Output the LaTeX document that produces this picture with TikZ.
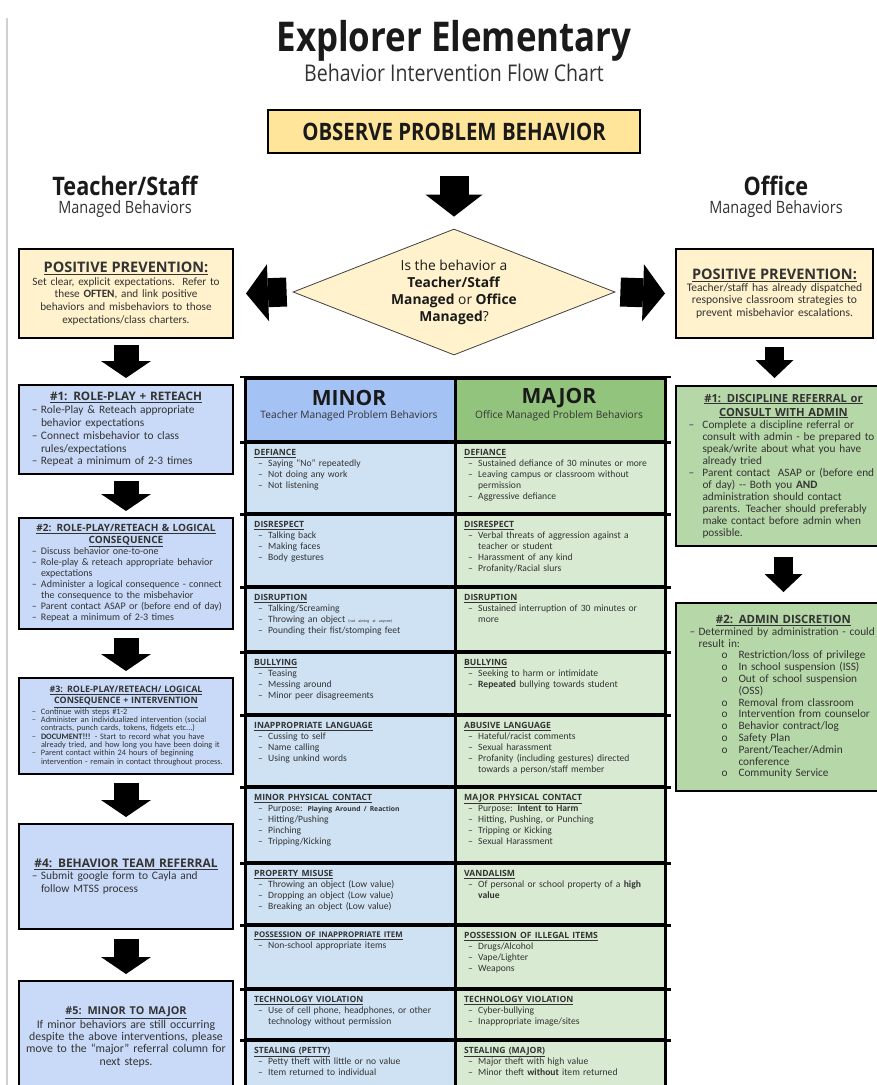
\documentclass[tikz,border=0pt]{standalone}
\usepackage{fontspec}
\setmainfont{Carlito}
\newfontfamily\osans{Open Sans}
\newfontfamily\ocond[FakeStretch=0.85]{Open Sans}
\usetikzlibrary{shapes.geometric,arrows.meta,calc}
\hyphenpenalty=10000
\exhyphenpenalty=10000
\definecolor{obsfill}{HTML}{FFE599}
\definecolor{ppfill}{HTML}{FFF2CC}
\definecolor{bluebox}{HTML}{C9DAF8}
\definecolor{minhead}{HTML}{A4C2F4}
\definecolor{mincell}{HTML}{CFE2F3}
\definecolor{majhead}{HTML}{93C47D}
\definecolor{majcell}{HTML}{D9EAD3}
\definecolor{greenbox}{HTML}{B6D7A8}
\definecolor{txt}{HTML}{333333}
\definecolor{ink}{HTML}{1A1A1A}
\definecolor{pageedge}{HTML}{D0D0D0}
\newdimen\dashind \newdimen\txtind
\newdimen\sdashind \newdimen\stxtind
\newcommand{\itm}[1]{\par\hangindent=\txtind\hangafter=1\leavevmode\hspace*{\dashind}\makebox[\dimexpr\txtind-\dashind\relax][l]{–}#1\par}
\newcommand{\sitm}[1]{\par\hangindent=\stxtind\hangafter=1\leavevmode\hspace*{\sdashind}\makebox[\dimexpr\stxtind-\sdashind\relax][l]{o}#1\par}
\newcommand{\btitle}[3]{{\centering\osans\bfseries\fontsize{#1}{#2}\selectfont #3\par}}
\newcommand{\chd}[2][8.6]{{\osans\bfseries\fontsize{#1}{11}\selectfont\underline{#2}\par}}
\tikzset{
  bigarrow/.style={line width=29pt,-{Triangle[length=22pt,width=57pt,line width=0pt]}},
  midarrow/.style={line width=25pt,-{Triangle[length=17pt,width=50pt,line width=0pt]}},
  smallarrow/.style={line width=19pt,-{Triangle[length=18pt,width=38pt,line width=0pt]}},
  ppbox/.style={draw=black,line width=2pt,fill=ppfill,text width=204pt,inner xsep=5pt,inner ysep=0pt,align=center,text=txt,font=\fontsize{11.2}{12.7}\selectfont},
  bluest/.style={draw=black,line width=2pt,fill=bluebox,text width=206pt,inner xsep=4pt,inner ysep=0pt,align=left,text=txt,
    execute at begin node={\dashind=9pt\txtind=18pt}},
  greenst/.style={draw=black,line width=2pt,fill=greenbox,minimum width=215pt,inner sep=0pt},
  rtext/.style={text width=204pt,inner sep=0pt,align=left,text=txt},
  mincellst/.style={draw=black,line width=2.5pt,fill=mincell,minimum width=210pt,inner sep=0pt},
  majcellst/.style={draw=black,line width=2.5pt,fill=majcell,minimum width=210pt,inner sep=0pt},
  celltext/.style={text width=205pt,inner sep=0pt,align=left,text=txt,font=\fontsize{9.6}{10.9}\selectfont,
    execute at begin node={\dashind=4pt\txtind=14pt}},
  gridline/.style={line width=2.5pt,draw=black},
  headbig/.style={font=\osans\bfseries\fontsize{21}{23}\selectfont,text=ink,inner sep=0pt},
  headsub/.style={font=\osans\fontsize{10.2}{12}\selectfont,text=txt,inner sep=0pt},
}
\newcommand{\trow}[5]{%
  \node[mincellst,anchor=north west,minimum height={#3-#2}] (min#1) at (244,#2) {};
  \node[majcellst,anchor=north west,minimum height={#3-#2}] (maj#1) at (454,#2) {};
  \node[celltext,anchor=north west] (min#1t) at ([xshift=10pt,yshift=-9pt]min#1.north west) {#4};
  \node[celltext,anchor=north west] (maj#1t) at ([xshift=10pt,yshift=-9pt]maj#1.north west) {#5};
}
\begin{document}
\begin{tikzpicture}[x=1pt,y=-1pt]
\useasboundingbox (0,0) rectangle (877,1085);
\clip (0,0) rectangle (877,1085);
\fill[white] (0,0) rectangle (877,1085);
\draw[pageedge,line width=1.2pt] (7,18) -- (7,1085);

% titles
\node[font=\ocond\bfseries\fontsize{41}{44}\selectfont,text=ink] (title) at (454,41) {Explorer Elementary};
\node[font=\ocond\fontsize{23}{26}\selectfont,text=txt] (subtitle) at (454,73) {Behavior Intervention Flow Chart};
\node[draw=black,line width=2pt,fill=obsfill,minimum width=372pt,minimum height=43pt,
  font=\ocond\bfseries\fontsize{24}{26}\selectfont,text=ink] (obs) at (454,131.5) {OBSERVE PROBLEM BEHAVIOR};
\node[font=\ocond\bfseries\fontsize{25.5}{28}\selectfont,text=ink] (ts) at (125,186) {Teacher/Staff};
\node[font=\ocond\fontsize{17}{19}\selectfont,text=txt] (tsm) at (125,209) {Managed Behaviors};
\node[font=\ocond\bfseries\fontsize{25.5}{28}\selectfont,text=ink] (of) at (776,186) {Office};
\node[font=\ocond\fontsize{17}{19}\selectfont,text=txt] (ofm) at (776,209) {Managed Behaviors};

% decision
\node[diamond,draw=black!75,line width=0.8pt,fill=ppfill,minimum width=322pt,minimum height=126pt,inner sep=0pt] (dia) at (454,292) {};
\node[align=center,font=\osans\fontsize{13.8}{17}\selectfont,text=ink] (diat) at (dia.center)
  {Is the behavior a\\\textbf{Teacher/Staff}\\\textbf{Managed} or \textbf{Office}\\\textbf{Managed}?};

% positive prevention
\node[ppbox,anchor=north west,minimum height=89pt] (ppl) at (18,248)
  {\btitle{14.5}{15}{\underline{POSITIVE PREVENTION:}}Set clear, explicit expectations.\ \ Refer to\\these \textbf{OFTEN}, and link positive\\behaviors and misbehaviors to those\\expectations/class charters.};
\node[ppbox,anchor=north west,minimum height=89pt,text width=187pt,font=\fontsize{11.6}{12.3}\selectfont] (ppr) at (675,248)
  {\btitle{14.5}{16}{\underline{POSITIVE PREVENTION:}}Teacher/staff has already dispatched\\responsive classroom strategies to\\prevent misbehavior escalations.};

% teacher steps
\node[bluest,anchor=north west,minimum height=89pt,font=\fontsize{11.4}{12.8}\selectfont] (s1) at (18,384)
  {\btitle{11.7}{14}{\underline{\#1: ROLE-PLAY + RETEACH}}\itm{Role-Play \& Reteach appropriate\newline behavior expectations}\itm{Connect misbehavior to class\newline rules/expectations}\itm{Repeat a minimum of 2-3 times}};
\node[bluest,anchor=north west,minimum height=111pt,font=\fontsize{10}{11.1}\selectfont] (s2) at (18,517)
  {\btitle{10}{11.5}{\underline{\#2: ROLE-PLAY/RETEACH \& LOGICAL}\\\underline{CONSEQUENCE}}\itm{Discuss behavior one-to-one}\itm{Role-play \& reteach appropriate behavior\newline expectations}\itm{Administer a logical consequence - connect\newline the consequence to the misbehavior}\itm{Parent contact ASAP or (before end of day)}\itm{Repeat a minimum of 2-3 times}};
\node[bluest,anchor=north west,minimum height=96pt,font=\fontsize{8.3}{8.3}\selectfont] (s3) at (18,677)
  {\btitle{8.9}{11}{\underline{\#3: ROLE-PLAY/RETEACH/ LOGICAL}\\\underline{CONSEQUENCE + INTERVENTION}}\itm{Continue with steps \#1-2}\itm{Administer an individualized intervention (social\newline contracts, punch cards, tokens, fidgets etc...)}\itm{\textbf{DOCUMENT!!!} - Start to record what you have\newline already tried, and how long you have been doing it}\itm{Parent contact within 24 hours of beginning\newline intervention - remain in contact throughout process.}};
\node[bluest,anchor=north west,minimum height=105pt,font=\fontsize{11.4}{12.5}\selectfont] (s4) at (18,823)
  {\btitle{11.9}{14}{\underline{\#4: BEHAVIOR TEAM REFERRAL}}\itm{Submit google form to Cayla and\newline follow MTSS process}};
\node[bluest,align=center,anchor=north west,minimum height=112pt,font=\fontsize{11.8}{12.2}\selectfont] (s5) at (18,980)
  {\btitle{10.8}{13}{\underline{\#5: MINOR TO MAJOR}}If minor behaviors are still occurring\\despite the above interventions, please\\move to the “major” referral column for\\next steps.};

% office steps
\node[greenst,anchor=north west,minimum height=160pt] (r1) at (675,385) {};
\node[rtext,font=\fontsize{11.3}{12}\selectfont,execute at begin node={\dashind=7pt\txtind=21pt}] (r1t) at (r1.center)
  {\btitle{11.2}{14}{\underline{\#1: DISCIPLINE REFERRAL or}\\\underline{CONSULT WITH ADMIN}}\itm{Complete a discipline referral or\newline consult with admin - be prepared to\newline speak/write about what you have\newline already tried}\itm{Parent contact\ \ ASAP or (before end\newline of day) -{}- Both you \textbf{AND}\newline administration should contact\newline parents. Teacher should preferably\newline make contact before admin when\newline possible.}};
\node[greenst,anchor=north west,minimum height=188pt] (r2) at (675,602) {};
\node[rtext,font=\fontsize{11.3}{11.8}\selectfont,execute at begin node={\dashind=8pt\txtind=17pt\sdashind=40pt\stxtind=57pt}] (r2t) at (r2.center)
  {\btitle{11.4}{14.5}{\underline{\#2: ADMIN DISCRETION}}\itm{Determined by administration - could\newline result in:}\sitm{Restriction/loss of privilege}\sitm{In school suspension (ISS)}\sitm{Out of school suspension\newline (OSS)}\sitm{Removal from classroom}\sitm{Intervention from counselor}\sitm{Behavior contract/log}\sitm{Safety Plan}\sitm{Parent/Teacher/Admin\newline conference}\sitm{Community Service}};

% table
\node[draw=black,line width=2.5pt,fill=minhead,anchor=north west,minimum width=210pt,minimum height=63pt,inner sep=0pt] (minh) at (244,377) {};
\node[draw=black,line width=2.5pt,fill=majhead,anchor=north west,minimum width=210pt,minimum height=63pt,inner sep=0pt] (majh) at (454,377) {};
\node[headbig] (minht) at (349,398) {MINOR};
\node[headsub] (minhs) at (349,416) {Teacher Managed Problem Behaviors};
\node[headbig] (majht) at (559,398) {MAJOR};
\node[headsub] (majhs) at (559,416) {Office Managed Problem Behaviors};

\trow{1}{440}{512}{\chd{DEFIANCE}\itm{Saying “No” repeatedly}\itm{Not doing any work}\itm{Not listening}}
  {\chd{DEFIANCE}\itm{Sustained defiance of 30 minutes or more}\itm{Leaving campus or classroom without\newline permission}\itm{Aggressive defiance}}
\trow{2}{512}{585}{\chd{DISRESPECT}\itm{Talking back}\itm{Making faces}\itm{Body gestures}}
  {\chd{DISRESPECT}\itm{Verbal threats of aggression against a\newline teacher or student}\itm{Harassment of any kind}\itm{Profanity/Racial slurs}}
\trow{3}{585}{650}{\chd{DISRUPTION}\itm{Talking/Screaming}\itm{Throwing an object {\fontsize{4}{5}\selectfont(not aiming at anyone)}}\itm{Pounding their fist/stomping feet}}
  {\chd{DISRUPTION}\itm{Sustained interruption of 30 minutes or\newline more}}
\trow{4}{650}{713}{\chd{BULLYING}\itm{Teasing}\itm{Messing around}\itm{Minor peer disagreements}}
  {\chd{BULLYING}\itm{Seeking to harm or intimidate}\itm{\textbf{Repeated} bullying towards student}}
\trow{5}{713}{785}{\chd{INAPPROPRIATE LANGUAGE}\itm{Cussing to self}\itm{Name calling}\itm{Using unkind words}}
  {\chd{ABUSIVE LANGUAGE}\itm{Hateful/racist comments}\itm{Sexual harassment}\itm{Profanity (including gestures) directed\newline towards a person/staff member}}
\trow{6}{785}{861}{\chd{MINOR PHYSICAL CONTACT}\itm{Purpose: {\osans\bfseries\fontsize{6.8}{8}\selectfont Playing Around / Reaction}}\itm{Hitting/Pushing}\itm{Pinching}\itm{Tripping/Kicking}}
  {\chd{MAJOR PHYSICAL CONTACT}\itm{Purpose: \textbf{Intent to Harm}}\itm{Hitting, Pushing, or Punching}\itm{Tripping or Kicking}\itm{Sexual Harassment}}
\trow{7}{861}{923}{\chd{PROPERTY MISUSE}\itm{Throwing an object (Low value)}\itm{Dropping an object (Low value)}\itm{Breaking an object (Low value)}}
  {\chd{VANDALISM}\itm{Of personal or school property of a \textbf{high}\newline\textbf{value}}}
\trow{8}{923}{987}{\chd[7.8]{POSSESSION OF INAPPROPRIATE ITEM}\itm{Non-school appropriate items}}
  {\chd{POSSESSION OF ILLEGAL ITEMS}\itm{Drugs/Alcohol}\itm{Vape/Lighter}\itm{Weapons}}
\trow{9}{987}{1038}{\chd{TECHNOLOGY VIOLATION}\itm{Use of cell phone, headphones, or other\newline technology without permission}}
  {\chd{TECHNOLOGY VIOLATION}\itm{Cyber-bullying}\itm{Inappropriate image/sites}}
\trow{10}{1038}{1095}{\chd{STEALING (PETTY)}\itm{Petty theft with little or no value}\itm{Item returned to individual}}
  {\chd{STEALING (MAJOR)}\itm{Major theft with high value}\itm{Minor theft \textbf{without} item returned}}

\draw[gridline] ([xshift=-4pt]minh.north west) -- ([xshift=4pt]majh.north east);
\foreach \r in {h,1,2,3,4,5,6,7,8,9}
  \draw[gridline] ([xshift=-4pt]min\r.south west) -- ([xshift=4pt]maj\r.south east);

% connectors
\draw[bigarrow] ([yshift=-22pt]obs.south) -- ([yshift=12pt]dia.north);
\draw[bigarrow] ([xshift=-6pt]dia.west) -- ([xshift=12pt]ppl.east);
\draw[bigarrow] ([xshift=5pt]dia.east) -- ([xshift=-10pt]ppr.west);
\draw[midarrow] ([yshift=-6pt]ppl.south) -- ([yshift=6pt]s1.north);
\draw[midarrow] ([yshift=-6pt]s1.south) -- ([yshift=6pt]s2.north);
\draw[midarrow] ([yshift=-8pt]s2.south) -- ([yshift=6pt]s3.north);
\draw[midarrow] ([yshift=-8pt]s3.south) -- ([yshift=6pt]s4.north);
\draw[midarrow] ([yshift=-9pt]s4.south) -- ([yshift=6pt]s5.north);
\draw[smallarrow] ([yshift=-8pt]ppr.south) -- ([yshift=7pt]r1.north -| ppr.south);
\draw[smallarrow] ([yshift=-10pt]r1.south) -- ([yshift=10pt]r2.north);
\end{tikzpicture}
\end{document}
